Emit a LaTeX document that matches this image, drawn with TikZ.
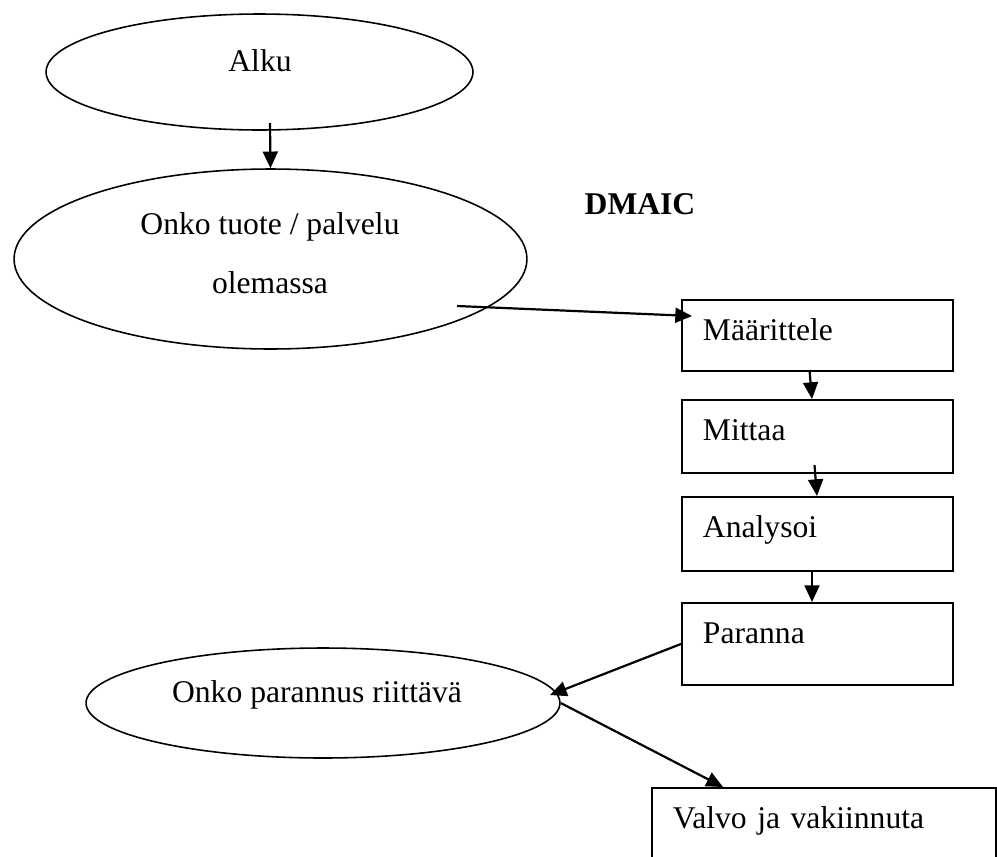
\documentclass[tikz,border=0pt]{standalone}
\usepackage{fontspec}
\setmainfont{Liberation Serif}
\usetikzlibrary{shapes.geometric,arrows.meta}

\begin{document}
\begin{tikzpicture}[x=0.02cm,y=-0.02cm,
		every node/.style={font=\fontsize{18}{22}\selectfont},
		oval/.style={draw,ellipse,line width=0.9pt,inner sep=0pt},
		stepbox/.style={draw,rectangle,line width=1.1pt,anchor=north west,inner xsep=0.42cm,inner ysep=0pt,text height=0.82cm,text width=4.58cm,align=left},
		arr/.style={-{Triangle[length=9.5pt,width=8.5pt]},line width=1.25pt}]

				\useasboundingbox (0,0) rectangle (997,856);

				%Start
				\node[oval,minimum width=8.54cm,minimum height=2.32cm] (alku) at (259.5,72) {};
				\node[anchor=base] (alkutxt) at (260,71) {Alku};

				%Question 1
				\node[oval,minimum width=10.26cm,minimum height=3.6cm] (tuote) at (270.5,259) {};
				\node[anchor=base] (tuotetxt1) at (270,234) {Onko tuote / palvelu};
				\node[anchor=base] (tuotetxt2) at (270,293) {olemassa};

				%Title
				\node[anchor=base,font=\fontsize{18}{22}\selectfont\bfseries] (dmaic) at (640,214) {DMAIC};

				%DMAIC steps
				\node[stepbox,text depth=0.6cm] (maar) at (681,299) {Määrittele};
				\node[stepbox,text depth=0.64cm] (mittaa) at (681,399) {Mittaa};
				\node[stepbox,text depth=0.66cm] (anal) at (681,496) {Analysoi};
				\node[stepbox,text depth=0.82cm] (paranna) at (681,602) {Paranna};

				%Question 2
				\node[oval,minimum width=9.48cm,minimum height=2.2cm] (riittava) at (323,703) {};
				\node[anchor=base] (riittavatxt) at (317,702) {Onko parannus riittävä};

				%End
				\node[stepbox,text depth=1.18cm,text width=6.04cm] (valvo) at (651,787) {Valvo ja vakiinnuta};

				%Line ends
				\coordinate (a1) at (270,123);
				\coordinate (a2s) at (457,306);
				\coordinate (a2e) at (692,316);
				\coordinate (a3s) at (809.5,370);
				\coordinate (a3e) at (812,399);
				\coordinate (a4s) at (814.5,465);
				\coordinate (a4e) at (817,496);
				\coordinate (a5s) at (812,570);
				\coordinate (a5e) at (812,602);
				\coordinate (a6e) at (550,695);
				\coordinate (a7e) at (723,787);

				%Lines
				\draw[arr] (a1) -- (tuote.north);
				\draw[arr] (a2s) -- (a2e);
				\draw[arr] (a3s) -- (a3e);
				\draw[arr] (a4s) -- (a4e);
				\draw[arr] (a5s) -- (a5e);
				\draw[arr] (paranna.west) -- (a6e);
				\draw[arr] (riittava.east) -- (a7e);
			\end{tikzpicture}
\end{document}
